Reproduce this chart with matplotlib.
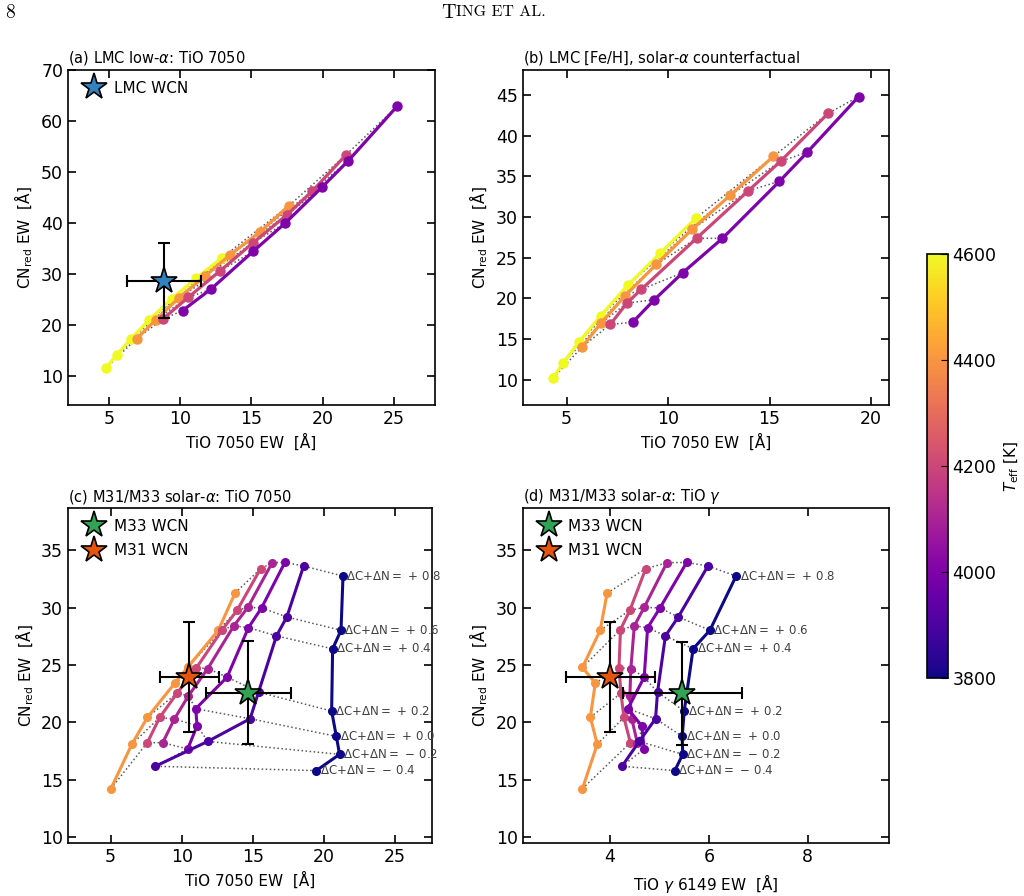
import numpy as np
import matplotlib.pyplot as plt
from matplotlib import colors, cm

# ---- data ----
dcn = [-0.4, -0.2, 0.0, 0.2, 0.4, 0.6, 0.8]

# (a) LMC low-alpha, TiO 7050
teff_ab = [4600, 4400, 4200, 4000]
tio_a = [
    [4.75, 5.52, 6.50, 7.81, 9.38, 11.09, 12.94],
    [6.92, 8.28, 9.89, 11.74, 13.52, 15.58, 17.64],
    [8.75, 10.55, 12.80, 15.11, 17.50, 19.26, 21.67],
    [10.15, 12.14, 15.11, 17.39, 19.99, 21.81, 25.25],
]
cn_a = [
    [11.5, 14.1, 17.2, 21.0, 25.1, 29.1, 33.2],
    [17.3, 21.0, 25.3, 29.6, 33.8, 38.2, 43.4],
    [21.1, 25.4, 30.6, 36.1, 41.6, 46.2, 53.4],
    [22.8, 27.0, 34.4, 40.0, 47.1, 52.2, 62.9],
]

# (b) LMC [Fe/H], solar-alpha counterfactual
tio_b = [
    [4.34, 4.83, 5.62, 6.68, 8.02, 9.60, 11.36],
    [5.77, 6.68, 7.88, 9.42, 11.20, 13.06, 15.19],
    [7.15, 7.97, 8.68, 11.40, 13.96, 15.54, 17.89],
    [8.25, 9.32, 10.72, 12.68, 15.49, 16.86, 19.39],
]
cn_b = [
    [10.25, 12.09, 14.68, 17.88, 21.65, 25.54, 29.85],
    [14.06, 16.93, 20.33, 24.19, 28.54, 32.68, 37.47],
    [16.81, 19.43, 21.12, 27.39, 33.25, 36.86, 42.76],
    [17.06, 19.84, 23.16, 27.39, 34.40, 37.98, 44.81],
]

# (c), (d) M31/M33 solar-alpha
teff_cd = [4400, 4200, 4100, 4000, 3900, 3800]
cn_cd = [
    [14.21, 18.08, 20.44, 23.41, 24.79, 28.03, 31.28],
    [18.22, 20.42, 22.54, 24.75, 28.09, 29.77, 33.40],
    [18.22, 20.28, 22.31, 24.69, 28.41, 30.03, 33.93],
    [17.67, 19.70, 21.18, 23.94, 28.26, 29.98, 33.95],
    [16.16, 18.33, 20.31, 22.63, 27.54, 29.19, 33.64],
    [15.78, 17.20, 18.77, 20.98, 26.41, 28.03, 32.76],
]
tio_c = [
    [5.02, 6.49, 7.59, 9.51, 10.41, 12.57, 13.75],
    [7.58, 8.45, 9.67, 11.03, 12.86, 13.89, 15.54],
    [8.66, 9.48, 10.47, 11.83, 13.66, 14.65, 16.36],
    [10.42, 11.08, 10.98, 13.19, 14.69, 15.61, 17.25],
    [8.14, 11.83, 14.81, 15.40, 16.66, 17.39, 18.57],
    [19.46, 21.10, 20.87, 20.54, 20.61, 21.20, 21.34],
]
tiog_d = [
    [3.44, 3.74, 3.60, 3.70, 3.44, 3.80, 3.94],
    [4.41, 4.28, 4.22, 4.18, 4.21, 4.40, 4.72],
    [4.55, 4.44, 4.40, 4.42, 4.49, 4.69, 5.15],
    [4.69, 4.64, 4.36, 4.69, 4.76, 5.01, 5.55],
    [4.24, 4.59, 4.92, 4.96, 5.12, 5.38, 5.98],
    [5.31, 5.47, 5.46, 5.50, 5.68, 6.02, 6.55],
]

# observed WCN points: x, xerr, y, yerr
lmc_wcn = (8.82, 2.6, 28.7, 7.4)
m33_wcn_c = (14.69, 2.98, 22.57, 4.5)
m31_wcn_c = (10.54, 2.09, 23.96, 4.83)
m33_wcn_d = (5.46, 1.2, 22.54, 4.5)
m31_wcn_d = (4.0, 0.9, 23.91, 4.8)

norm = colors.Normalize(vmin=3800, vmax=4600)
cmap = plt.get_cmap("plasma")

fig = plt.figure(figsize=(10.24, 8.96), dpi=100)
ax_a = fig.add_axes([0.0664, 0.548, 0.3584, 0.374])
ax_b = fig.add_axes([0.5104, 0.548, 0.358, 0.374])
ax_c = fig.add_axes([0.0664, 0.059, 0.3555, 0.374])
ax_d = fig.add_axes([0.5104, 0.059, 0.358, 0.374])
cax = fig.add_axes([0.905, 0.243, 0.0205, 0.473])


def draw_grid(ax, teffs, xs, ys, ms=6.5, lw=2.3):
    xs, ys = np.asarray(xs), np.asarray(ys)
    for j in range(xs.shape[1]):
        ax.plot(xs[:, j], ys[:, j], ls=":", color="0.35", lw=1.1, zorder=1)
    for t, x, y in zip(teffs, xs, ys):
        ax.plot(x, y, "-o", color=cmap(norm(t)), lw=lw, ms=ms, zorder=2)


def draw_star(ax, obs, color, label):
    x, xe, y, ye = obs
    ax.errorbar(x, y, xerr=xe, yerr=ye, fmt="none", ecolor="k", elinewidth=1.5,
                capsize=4, capthick=1.5, zorder=4)
    ax.plot(x, y, "*", ms=20, mfc=color, mec="k", mew=1.2, ls="none",
            label=label, zorder=5)


def style(ax, title, xlabel, legend=True):
    ax.tick_params(direction="in", top=True, right=True, length=6, width=1.2,
                   labelsize=12.5)
    for s in ax.spines.values():
        s.set_linewidth(1.2)
    ax.set_title(title, loc="left", fontsize=10.5, pad=5)
    ax.set_xlabel(xlabel, fontsize=11)
    ax.set_ylabel(r"CN$_{\rm red}$ EW  [Å]", fontsize=11)
    if legend:
        ax.legend(loc="upper left", frameon=False, fontsize=11,
                  handletextpad=0.3, borderaxespad=0.3, labelspacing=0.6)


# (a)
draw_grid(ax_a, teff_ab, tio_a, cn_a)
draw_star(ax_a, lmc_wcn, "#3182bd", "LMC WCN")
ax_a.set(xlim=(2.1, 27.9), ylim=(4.3, 70), xticks=[5, 10, 15, 20, 25],
         yticks=np.arange(10, 71, 10))
style(ax_a, r"(a) LMC low-$\alpha$: TiO 7050", "TiO 7050 EW  [Å]")

# (b)
draw_grid(ax_b, teff_ab, tio_b, cn_b)
ax_b.set(xlim=(2.83, 20.9), ylim=(6.9, 48.1), xticks=[5, 10, 15, 20],
         yticks=np.arange(10, 46, 5))
style(ax_b, r"(b) LMC [Fe/H], solar-$\alpha$ counterfactual",
      "TiO 7050 EW  [Å]", legend=False)

# (c) and (d)
for ax, xs, m33, m31 in [(ax_c, tio_c, m33_wcn_c, m31_wcn_c),
                         (ax_d, tiog_d, m33_wcn_d, m31_wcn_d)]:
    draw_grid(ax, teff_cd, xs, cn_cd, ms=5.5, lw=2.2)
    for x, y, d in zip(xs[-1], cn_cd[-1], dcn):
        sign = "+" if d >= 0 else "-"
        ax.annotate(r"$\Delta$C+$\Delta$N$=\,%s\,%.1f$" % (sign, abs(d)), (x, y),
                    xytext=(2.5, 0), textcoords="offset points", va="center",
                    ha="left", fontsize=8.5, color="0.25", zorder=3)
    draw_star(ax, m33, "#31a354", "M33 WCN")
    draw_star(ax, m31, "#e6550d", "M31 WCN")
    ax.set(ylim=(9.45, 38.7), yticks=[10, 15, 20, 25, 30, 35])

ax_c.set(xlim=(2.0, 27.6), xticks=[5, 10, 15, 20, 25])
ax_d.set(xlim=(2.23, 9.65), xticks=[4, 6, 8])
style(ax_c, r"(c) M31/M33 solar-$\alpha$: TiO 7050", "TiO 7050 EW  [Å]")
style(ax_d, r"(d) M31/M33 solar-$\alpha$: TiO $\gamma$", r"TiO $\gamma$ 6149 EW  [Å]")

# colorbar
cb = fig.colorbar(cm.ScalarMappable(norm=norm, cmap=cmap), cax=cax,
                  ticks=[3800, 4000, 4200, 4400, 4600])
cb.ax.tick_params(direction="in", length=5, labelsize=12.5)
cb.outline.set_linewidth(1.2)
cb.set_label(r"$T_{\rm eff}$ [K]", fontsize=11)

# page header
fig.text(0.005, 0.986, "8", family="cmr10", fontsize=14, va="center")
fig.text(0.445, 0.986, "T", family="cmr10", fontsize=14.5, va="center", ha="right")
fig.text(0.445, 0.986, "ING ET AL.", family="cmr10", fontsize=11.5, va="center",
         ha="left")

fig.savefig("out.png", dpi=100)
plt.close(fig)
